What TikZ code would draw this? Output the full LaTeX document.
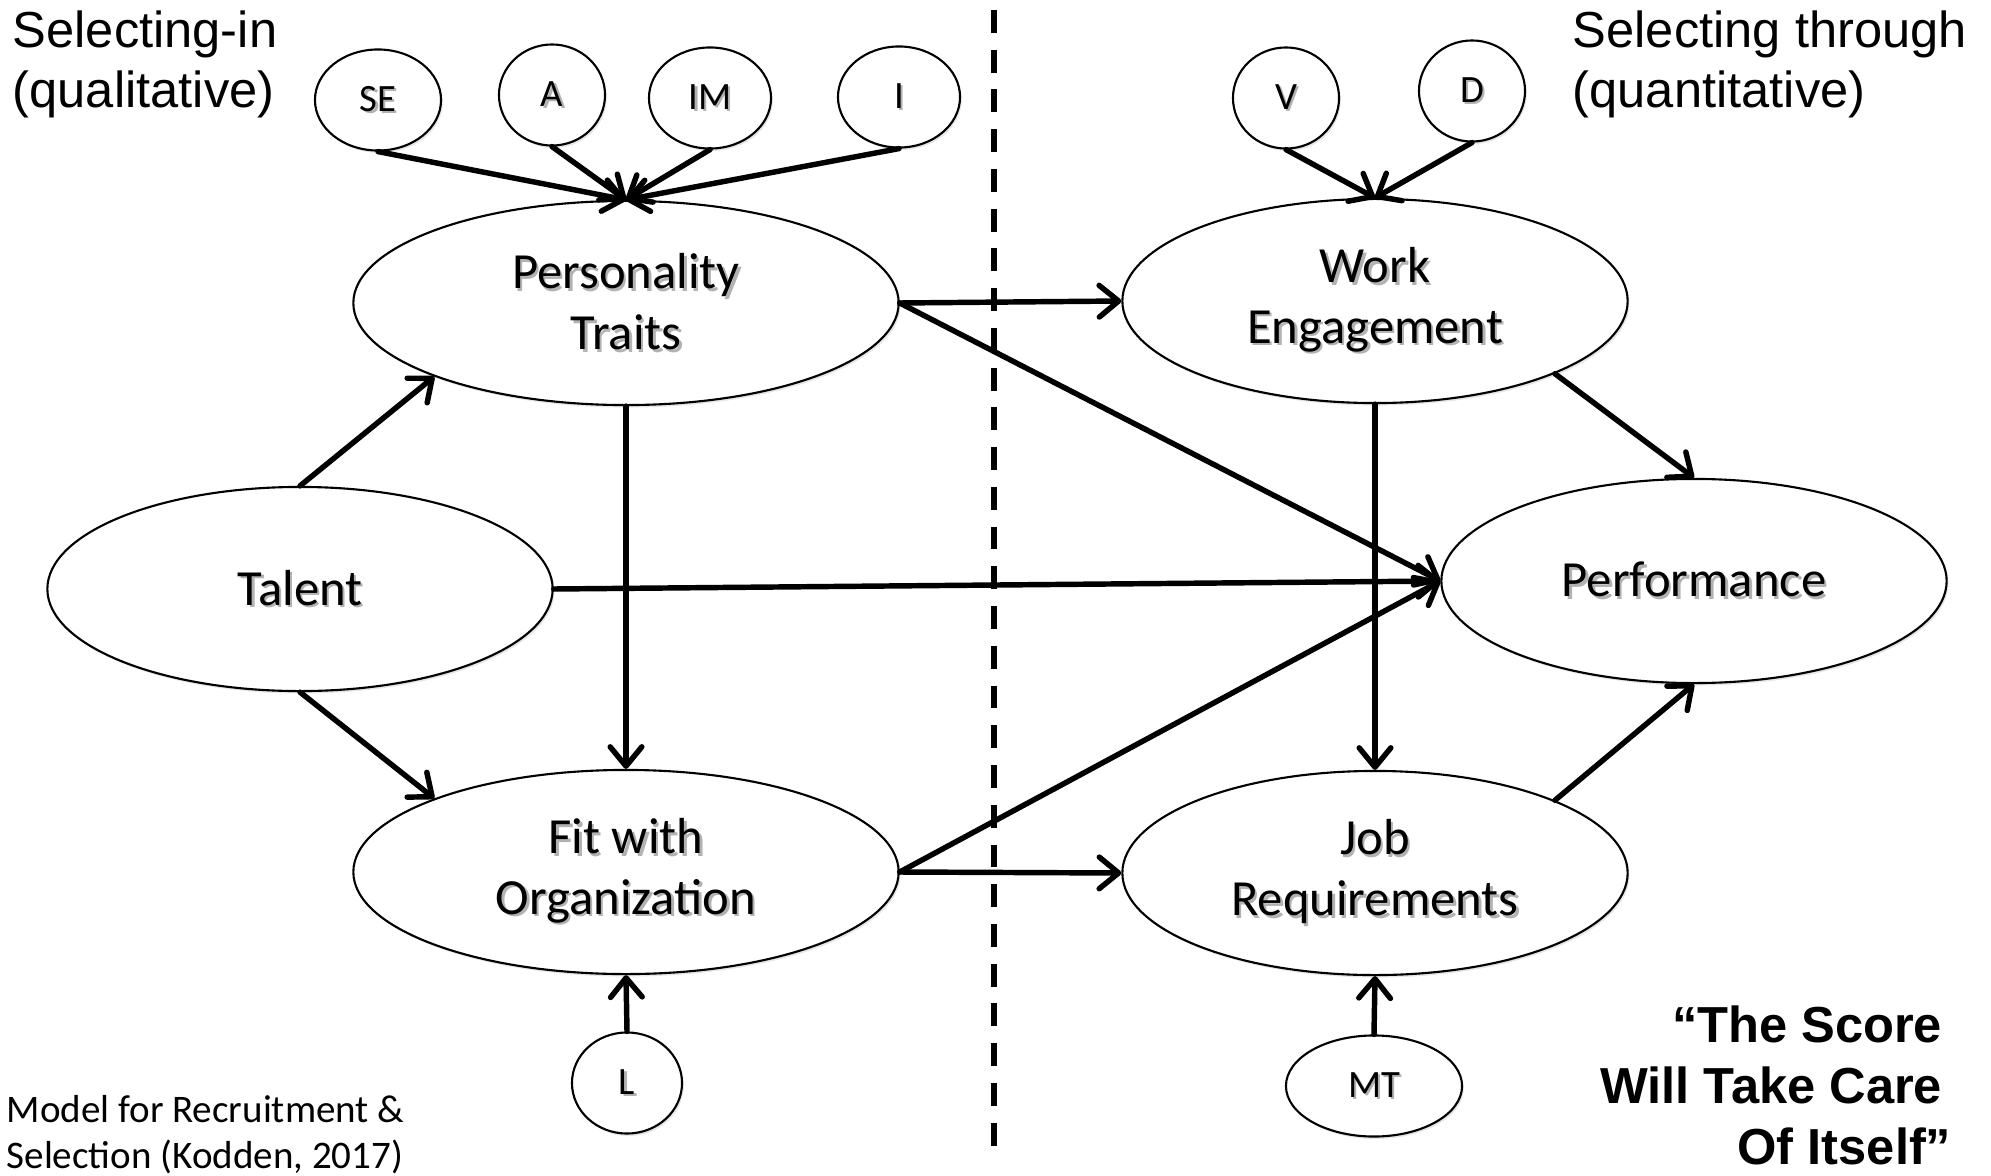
\documentclass[tikz,border=0pt]{standalone}
\usepackage{fontspec}
\setmainfont{Carlito}
\newfontfamily\arialfont{Liberation Sans}
\usetikzlibrary{arrows.meta,shapes.geometric,shadows}
% soft grey copy behind a word
\newcommand\shd[1]{\makebox[0pt][l]{\hspace{0.7pt}\raisebox{-0.7pt}{\color{black!30}#1}}#1}
\begin{document}
\begin{tikzpicture}[x={(0.01cm,0)},y={(0,-0.01cm)},inner sep=0pt,
  lat/.style={ellipse,draw,line width=0.6pt,fill=white,minimum width=5.05cm,minimum height=2.04cm,
    align=center,font=\fontsize{14.4}{17.3}\selectfont,
    drop shadow={shadow xshift=0.5pt,shadow yshift=-0.7pt,opacity=0.2}},
  ind/.style={lat,minimum height=1.01cm,font=\fontsize{11}{13}\selectfont},
  arr/.style={line width=1.55pt,line cap=round,-{Straight Barb[length=5.5pt,width=9pt,round]}},
  hd/.style={anchor=base west,align=left,font=\arialfont\fontsize{14.4}{17.3}\selectfont}]
\useasboundingbox (0,0) rectangle (1991,1176);
% divider
\coordinate (top) at (994,10);
\coordinate (bot) at (994,1160);
\draw[line width=1.7pt,dash pattern=on 6.5pt off 4.8pt] (top) -- (bot);
% main constructs
\node[lat,minimum width=5.45cm] (pt) at (626,303) {\shd{Personality}\\\shd{Traits}};
\node[lat] (we) at (1375,301) {\shd{Work}\\\shd{Engagement}};
\node[lat] (talent) at (300,589) {\shd{Talent}};
\node[lat] (perf) at (1694,581) {\shd{Performance}};
\node[lat,minimum width=5.45cm] (fit) at (626,872) {\shd{Fit with}\\\shd{Organization}};
\node[lat] (job) at (1375,873) {\shd{Job}\\\shd{Requirements}};
% indicators
\foreach \N/\T/\X/\Y/\W in {se/SE/378/100/1.26,a/A/552/95/1.06,im/IM/710/98/1.22,i/I/899/97/1.22,
  v/V/1286/98/1.06,d/D/1472/91/1.06,l/L/627/1083/1.1,mt/MT/1374/1086/1.76}
  \node[ind,minimum width=\W cm] (\N) at (\X,\Y) {\shd{\T}};
% paths
\foreach \N in {se,a,im,i} \draw[arr] (\N.south) -- (pt.north);
\foreach \N in {v,d} \draw[arr] (\N.south) -- (we.north);
\draw[arr] (talent.north) -- (pt.201);
\draw[arr] (talent.south) -- (fit.159);
\draw[arr] (pt.south) -- (fit.north);
\draw[arr] (pt.east) -- (we.west);
\draw[arr] (pt.east) -- (perf.west);
\draw[arr] (talent.east) -- (perf.west);
\draw[arr] (fit.east) -- (perf.west);
\draw[arr] (fit.east) -- (job.west);
\draw[arr] (we.south) -- (job.north);
\draw[arr] (we.-22) -- (perf.north);
\draw[arr] (job.22) -- (perf.south);
\draw[arr] (l.north) -- (fit.south);
\draw[arr] (mt.north) -- (job.south);
% captions (base = last line)
\node[hd] (selin) at (12,108) {Selecting-in\\(qualitative)};
\node[hd] (selthr) at (1572,108) {Selecting through\\(quantitative)};
\node[anchor=base west,align=left,font=\fontsize{11.1}{13}\selectfont] (src) at (6,1168)
  {Model for Recruitment \&\\Selection (Kodden, 2017)};
\node[anchor=base east,align=right,font=\arialfont\bfseries\fontsize{14.4}{17.3}\selectfont] (score) at (1952,1164)
  {“The Score\kern2.6pt\\Will Take Care\kern2.6pt\\Of Itself”};
\end{tikzpicture}
\end{document}
